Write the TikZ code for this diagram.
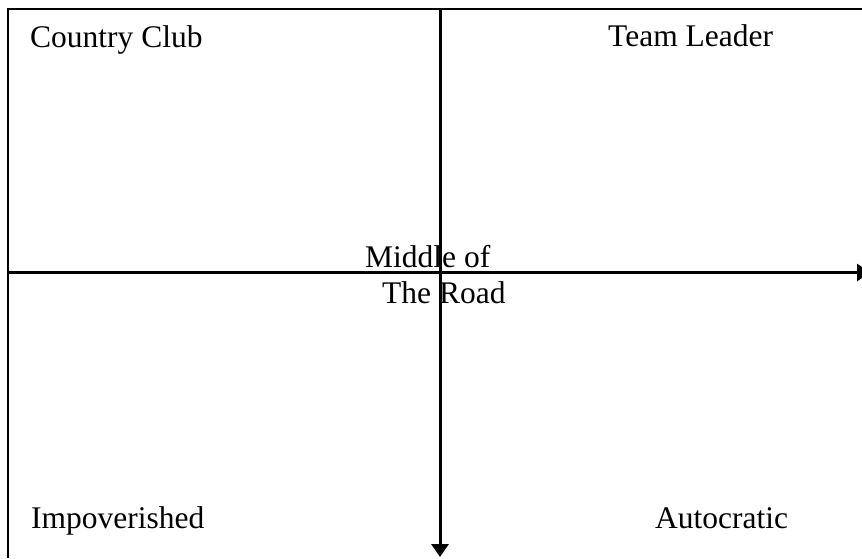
\documentclass[tikz,border=0pt]{standalone}
\usepackage{fontspec}
\setmainfont{Liberation Serif}
\usetikzlibrary{arrows.meta}
\begin{document}
\begin{tikzpicture}[x=1pt,y=-1pt,
  lbl/.style={anchor=base west,inner sep=0pt,font=\fontsize{31.5}{36}\selectfont},
  frameline/.style={line width=2.3pt},
  axis/.style={line width=3pt,-{Triangle[length=13pt,width=17pt]}}]
\useasboundingbox (0,0) rectangle (862,558);
\clip (0,0) rectangle (862,558);
\coordinate (tl) at (8,9);
\coordinate (tr) at (862,9);
\coordinate (bl) at (8,558);
\coordinate (hs) at (8,272.5);
\coordinate (he) at (870,272.5);
\coordinate (vs) at (440,9);
\coordinate (ve) at (440,557);
\draw[frameline] (tr) -- (tl) -- (bl);
\draw[axis] (hs) -- (he);
\draw[axis] (vs) -- (ve);
\node[lbl] (cc) at (30,47.3) {Country Club};
\node[lbl] (tlr) at (608,46.7) {Team Leader};
\node[lbl] (imp) at (31,528) {Impoverished};
\node[lbl] (aut) at (655,528) {Autocratic};
\node[lbl] (mid1) at (365,267) {Middle of};
\node[lbl] (mid2) at (382,303) {The Road};
\end{tikzpicture}
\end{document}
